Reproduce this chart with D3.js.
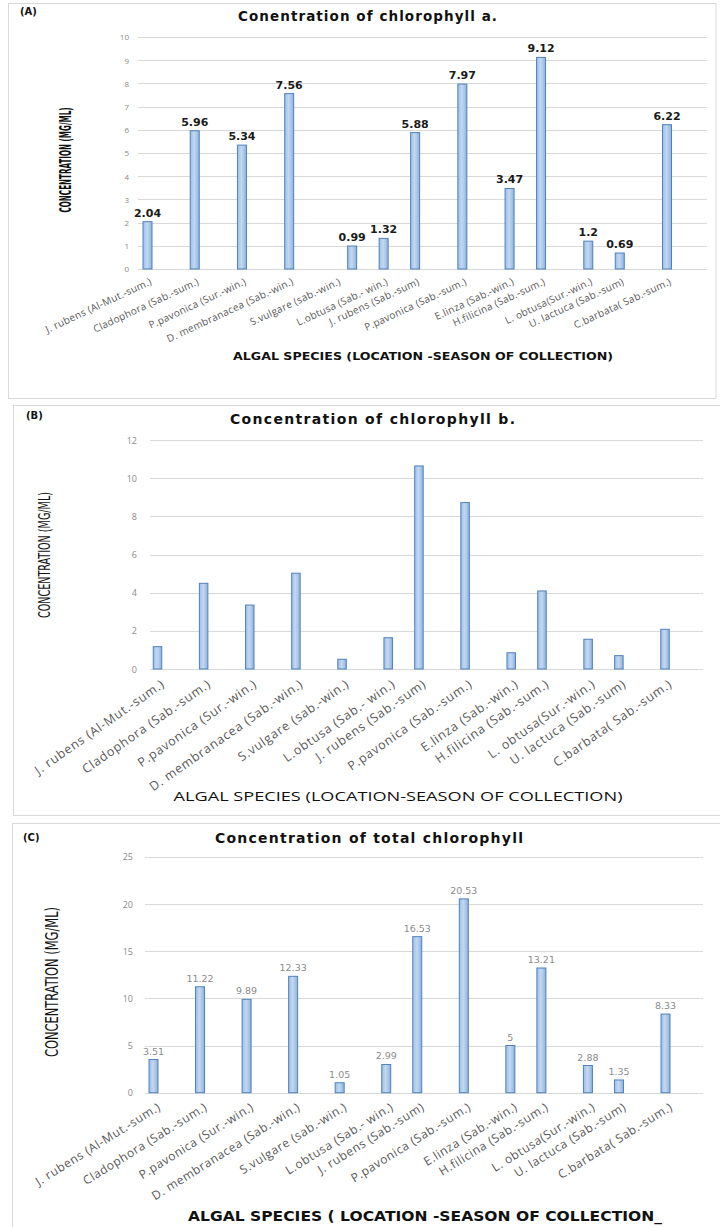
<!DOCTYPE html>
<html>
<head>
<meta charset="utf-8">
<script src="https://cdn.jsdelivr.net/npm/d3@7"></script>
<style>
  html, body { margin: 0; padding: 0; background: #ffffff; }
  svg { display: block; }
</style>
</head>
<body>
<svg id="fig" width="720" height="1227"></svg>
<script>
// ---- data -------------------------------------------------------------
const categories = [
  "J. rubens (Al-Mut.-sum.)",
  "Cladophora (Sab.-sum.)",
  "P.pavonica (Sur.-win.)",
  "D. membranacea (Sab.-win.)",
  "S.vulgare (sab.-win.)",
  "L.obtusa (Sab.- win.)",
  "J. rubens (Sab.-sum)",
  "P.pavonica (Sab.-sum.)",
  "E.linza (Sab.-win.)",
  "H.filicina (Sab.-sum.)",
  "L. obtusa(Sur.-win.)",
  "U. lactuca (Sab.-sum)",
  "C.barbata( Sab.-sum.)"
];
const chlorophyllA     = [2.04, 5.96, 5.34, 7.56, 0.99, 1.32, 5.88, 7.97, 3.47, 9.12, 1.2, 0.69, 6.22];
const chlorophyllB     = [1.17, 4.49, 3.35, 5.02, 0.51, 1.64, 10.64, 8.72, 0.85, 4.09, 1.56, 0.70, 2.08];
const chlorophyllTotal = [3.51, 11.22, 9.89, 12.33, 1.05, 2.99, 16.53, 20.53, 5, 13.21, 2.88, 1.35, 8.33];

const ticksA = [0, 1, 2, 3, 4, 5, 6, 7, 8, 9, 10];
const ticksB = [0, 2, 4, 6, 8, 10, 12];
const ticksC = [0, 5, 10, 15, 20, 25];

// ---- layout -----------------------------------------------------------
// category slots along the x axis (the original workbook leaves uneven gaps)
const slotsDefault = [0, 3, 6, 9, 12, 15, 17, 20, 23, 25, 28, 30, 33];
const slotsBarsA   = [0, 3, 6, 9, 13, 15, 17, 20, 23, 25, 28, 30, 33];

const panels = [
  {
    tag: "(A)", title: "Conentration of chlorophyll a.",
    values: chlorophyllA, ticks: ticksA, barSlots: slotsBarsA, labelSlots: slotsDefault,
    box: { x: 8.5, y: 3.5, x2: 716, y2: 398.5 },
    tagPos: [20, 15], tagSize: 10,
    titleX: 367.5, titleY: 21, titleSize: 13.5, titleLen: 259,
    yDomain: [0, 10], yRange: [269, 37],
    gridX: [138, 707], slotX: [147.5, 667], barW: 9,
    tickX: 129, tickSize: 8,
    yTitle: { text: "CONCENTRATION (MG/ML)", x: 71, cy: 160, len: 105, size: 15, weight: "bold" },
    xLab: { size: 10, spacing: 0.3, angle: -25, dx: 5, dy: 15 },
    xTitle: { text: "ALGAL SPECIES (LOCATION -SEASON OF COLLECTION)", cx: 423, y: 360, len: 380, size: 11, weight: "bold" },
    valueLabels: { size: 11, weight: "bold", fill: "#1a1a1a", family: "DejaVu Sans" }
  },
  {
    tag: "(B)", title: "Concentration of chlorophyll b.",
    values: chlorophyllB, ticks: ticksB, barSlots: slotsDefault, labelSlots: slotsDefault,
    box: { x: 13.5, y: 405.5, x2: 730, y2: 815.5 },
    tagPos: [26, 419], tagSize: 10,
    titleX: 372.5, titleY: 424, titleSize: 14, titleLen: 285,
    yDomain: [0, 12], yRange: [669, 440],
    gridX: [150, 703], slotX: [157.5, 665], barW: 8.5,
    tickX: 137, tickSize: 9,
    yTitle: { text: "CONCENTRATION (MG/ML)", x: 50, cy: 555, len: 126, size: 15, weight: "normal" },
    xLab: { size: 12.5, spacing: 0.8, angle: -35, dx: 8, dy: 17 },
    xTitle: { text: "ALGAL SPECIES (LOCATION-SEASON OF COLLECTION)", cx: 398, y: 801, len: 449, size: 13.5, weight: "normal" },
    valueLabels: null
  },
  {
    tag: "(C)", title: "Concentration of total chlorophyll",
    values: chlorophyllTotal, ticks: ticksC, barSlots: slotsDefault, labelSlots: slotsDefault,
    box: { x: 12.5, y: 823.5, x2: 730, y2: 1240 },
    tagPos: [23, 841], tagSize: 10,
    titleX: 369, titleY: 843, titleSize: 14, titleLen: 308,
    yDomain: [0, 25], yRange: [1092.7, 856.7],
    gridX: [145, 703], slotX: [153.5, 665.5], barW: 9,
    tickX: 133, tickSize: 9,
    yTitle: { text: "CONCENTRATION (MG/ML)", x: 58, cy: 982, len: 150, size: 17, weight: "normal" },
    xLab: { size: 12, spacing: 0.6, angle: -32, dx: 8, dy: 16.5 },
    xTitle: { text: "ALGAL SPECIES ( LOCATION -SEASON OF COLLECTION_", cx: 425, y: 1221, len: 474, size: 14.5, weight: "bold" },
    valueLabels: { size: 9.5, weight: "normal", fill: "#8c8c8c", family: "DejaVu Sans" }
  }
];

const svg = d3.select("#fig");
svg.append("rect").attr("width", 720).attr("height", 1227).attr("fill", "#ffffff");

// bar fill: soft horizontal gradient like an Office light-gradient style
const defs = svg.append("defs");
const grad = defs.append("linearGradient").attr("id", "barFill")
  .attr("x1", "0%").attr("x2", "100%").attr("y1", "0%").attr("y2", "0%");
[["0%", "#9dbfe7"], ["45%", "#c3d8f1"], ["100%", "#8eb2de"]].forEach(([o, c]) =>
  grad.append("stop").attr("offset", o).attr("stop-color", c));

const titleFont = "'DejaVu Sans', Verdana, sans-serif";
const labelFont = "'Open Sans', 'Liberation Sans', sans-serif";
const condFont = "'DejaVu Sans Condensed', 'Liberation Sans Narrow', sans-serif";

panels.forEach(p => {
  const g = svg.append("g");

  // panel frame
  g.append("rect")
    .attr("x", p.box.x).attr("y", p.box.y)
    .attr("width", p.box.x2 - p.box.x).attr("height", p.box.y2 - p.box.y)
    .attr("fill", "#ffffff").attr("stroke", "#d9d9d9").attr("stroke-width", 1);

  g.append("text").text(p.tag)
    .attr("x", p.tagPos[0]).attr("y", p.tagPos[1])
    .attr("font-family", titleFont).attr("font-weight", "bold")
    .attr("font-size", p.tagSize).attr("fill", "#111");

  g.append("text").text(p.title)
    .attr("x", p.titleX - p.titleLen / 2).attr("y", p.titleY)
    .attr("font-family", titleFont).attr("font-weight", "bold")
    .attr("font-size", p.titleSize).attr("fill", "#111")
    .attr("textLength", p.titleLen).attr("lengthAdjust", "spacing");

  const y = d3.scaleLinear().domain(p.yDomain).range(p.yRange);
  const x = d3.scaleLinear().domain([0, 33]).range(p.slotX);

  // horizontal gridlines + tick labels via a left axis
  const yAxis = d3.axisLeft(y).tickValues(p.ticks)
    .tickSize(-(p.gridX[1] - p.gridX[0])).tickPadding(0).tickFormat(d3.format("d"));
  const ag = g.append("g").attr("transform", `translate(${p.gridX[0]},0)`).call(yAxis);
  ag.select(".domain").remove();
  ag.selectAll(".tick line").attr("stroke", "#d9d9d9").attr("stroke-width", 1)
    .attr("shape-rendering", "crispEdges");
  ag.selectAll(".tick text")
    .attr("x", p.tickX - p.gridX[0]).attr("dy", "0.35em")
    .attr("font-family", labelFont).attr("font-size", p.tickSize).attr("fill", "#8a8a8a");

  // bars
  g.selectAll("rect.bar").data(p.values).join("rect")
    .attr("class", "bar")
    .attr("x", (d, i) => x(p.barSlots[i]) - p.barW / 2)
    .attr("y", d => y(d))
    .attr("width", p.barW)
    .attr("height", d => y(0) - y(d))
    .attr("fill", "url(#barFill)")
    .attr("stroke", "#4f81bd").attr("stroke-width", 1);

  // value labels
  if (p.valueLabels) {
    const v = p.valueLabels;
    g.selectAll("text.val").data(p.values).join("text")
      .attr("class", "val")
      .attr("x", (d, i) => x(p.barSlots[i]))
      .attr("y", d => y(d) - 5)
      .attr("text-anchor", "middle")
      .attr("font-family", v.family).attr("font-weight", v.weight)
      .attr("font-size", v.size).attr("fill", v.fill)
      .text(d => d);
  }

  // rotated category labels
  g.selectAll("text.cat").data(categories).join("text")
    .attr("class", "cat")
    .attr("transform", (d, i) =>
      `translate(${x(p.labelSlots[i]) + p.xLab.dx},${y(0) + p.xLab.dy}) rotate(${p.xLab.angle})`)
    .attr("text-anchor", "end")
    .attr("font-family", labelFont).attr("font-size", p.xLab.size)
    .attr("letter-spacing", p.xLab.spacing).attr("fill", "#595959")
    .text(d => d);

  // y-axis title
  g.append("text").text(p.yTitle.text)
    .attr("transform", `translate(${p.yTitle.x},${p.yTitle.cy}) rotate(-90)`)
    .attr("text-anchor", "middle")
    .attr("font-family", condFont).attr("font-weight", p.yTitle.weight)
    .attr("font-size", p.yTitle.size).attr("fill", "#111")
    .attr("textLength", p.yTitle.len).attr("lengthAdjust", "spacingAndGlyphs");

  // x-axis title
  g.append("text").text(p.xTitle.text)
    .attr("x", p.xTitle.cx - p.xTitle.len / 2).attr("y", p.xTitle.y)
    .attr("font-family", p.xTitle.weight === "bold" ? titleFont : labelFont)
    .attr("font-weight", p.xTitle.weight)
    .attr("font-size", p.xTitle.size).attr("fill", "#111")
    .attr("textLength", p.xTitle.len).attr("lengthAdjust", "spacingAndGlyphs");
});
</script>
</body>
</html>
